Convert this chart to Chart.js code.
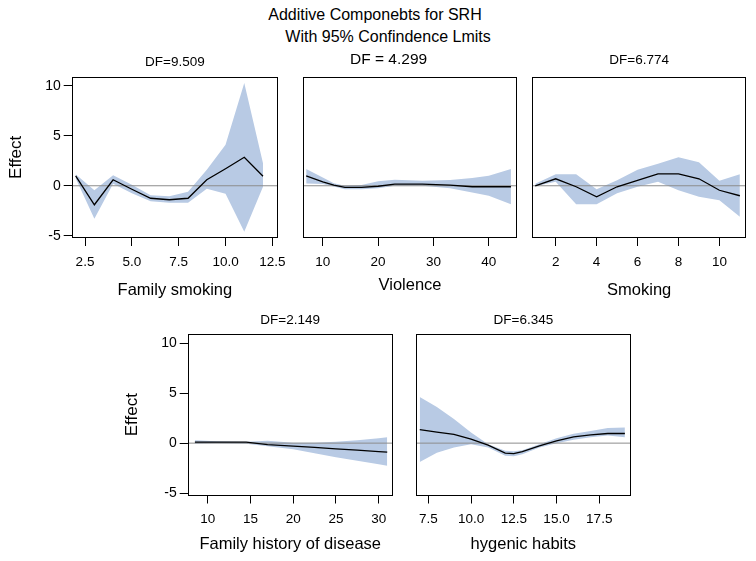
<!DOCTYPE html>
<html>
<head>
<meta charset="utf-8">
<script src="https://cdn.jsdelivr.net/npm/chart.js@4.4.0/dist/chart.umd.min.js"></script>
<style>
  body { margin: 0; background: #fff; }
  #wrap { position: relative; width: 756px; height: 561px; overflow: hidden; font-family: 'Liberation Sans', Arial, sans-serif; }
  canvas { position: absolute; }
  .ttl { position: absolute; font-size: 16px; line-height: 18px; white-space: nowrap; transform: translateX(-50%); color: #000; }
</style>
</head>
<body>
<div id="wrap">
  <div class="ttl" style="left:375px; top:6px">Additive Componebts for SRH</div>
  <div class="ttl" style="left:388px; top:28px">With 95% Confindence Lmits</div>
  <canvas id="p1"></canvas>
  <canvas id="p2"></canvas>
  <canvas id="p3"></canvas>
  <canvas id="p4"></canvas>
  <canvas id="p5"></canvas>
</div>
<script>
'use strict'

// Shared y axis
var yTicks = [-5, 0, 5, 10];

// Family smoking
var famSmokX     = [2, 3, 4, 5, 6, 7, 8, 9, 10, 11, 12];
var famSmokFit   = [1.0, -1.9, 0.6, -0.35, -1.25, -1.4, -1.25, 0.6, 1.7, 2.85, 0.95];
var famSmokUpper = [1.15, -0.45, 1.05, 0.1, -0.95, -1.05, -0.6, 1.6, 4.1, 10.3, 2.25];
var famSmokLower = [0.75, -3.3, 0.2, -0.75, -1.55, -1.7, -1.7, -0.3, -0.8, -4.6, -0.1];
var famSmokTicks = [2.5, 5, 7.5, 10, 12.5];

// Violence
var violX     = [7, 10, 12, 14, 17, 20, 23, 28, 33, 37, 40, 44];
var violFit   = [1.0, 0.4, 0.07, -0.17, -0.17, -0.05, 0.17, 0.17, 0.07, -0.1, -0.1, -0.1];
var violUpper = [1.68, 0.84, 0.25, 0.0, 0.07, 0.44, 0.6, 0.5, 0.57, 0.77, 1.0, 1.68];
var violLower = [0.23, 0.17, -0.07, -0.34, -0.34, -0.24, 0.0, 0.0, -0.24, -0.67, -1.0, -1.84];
var violTicks = [10, 20, 30, 40];

// Smoking
var smokX     = [1, 2, 3, 4, 5, 6, 7, 8, 9, 10, 11];
var smokFit   = [0.0, 0.7, -0.1, -1.1, -0.1, 0.55, 1.2, 1.2, 0.7, -0.45, -1.0];
var smokUpper = [0.2, 1.15, 1.15, -0.35, 0.55, 1.6, 2.2, 2.85, 2.35, 0.5, 1.15];
var smokLower = [-0.05, 0.4, -1.85, -1.85, -0.75, -0.1, 0.4, -0.45, -1.1, -1.45, -3.1];
var smokTicks = [2, 4, 6, 8, 10];

// Family history of disease
var histX     = [8.5, 11, 14.5, 17, 20, 22.5, 25, 27.5, 30, 31];
var histFit   = [0.1, 0.1, 0.1, -0.15, -0.3, -0.43, -0.57, -0.7, -0.85, -0.9];
var histUpper = [0.3, 0.2, 0.15, 0.25, 0.05, 0.05, 0.15, 0.3, 0.5, 0.6];
var histLower = [-0.05, 0.0, -0.05, -0.3, -0.6, -1.0, -1.4, -1.75, -2.1, -2.25];
var histTicks = [10, 15, 20, 25, 30];

// hygenic habits
var hygX     = [7, 8, 9, 10, 11, 12, 12.5, 13, 14, 15, 16, 17, 18, 19];
var hygFit   = [1.35, 1.1, 0.87, 0.4, -0.2, -1.0, -1.05, -0.85, -0.27, 0.23, 0.63, 0.83, 0.96, 0.96];
var hygUpper = [4.6, 3.6, 2.4, 1.05, -0.1, -0.75, -0.8, -0.7, -0.1, 0.5, 0.93, 1.2, 1.5, 1.57];
var hygLower = [-1.88, -0.95, -0.43, -0.1, -0.43, -1.27, -1.3, -1.1, -0.43, 0.0, 0.33, 0.6, 0.77, 0.6];
var hygTicks = [7.5, 10, 12.5, 15, 17.5];

Chart.defaults.font.family = "'Liberation Sans', Arial, sans-serif";
Chart.defaults.color = '#000';

var BAND = '#b8cae4';

// box around each plot area
var frame = {
  id: 'frame',
  afterDatasetsDraw: function(chart) {
    var a = chart.chartArea, ctx = chart.ctx;
    var x0 = Math.round(a.left) + 0.5, y0 = Math.round(a.top) + 0.5;
    var x1 = Math.round(a.right) - 0.5, y1 = Math.round(a.bottom) - 0.5;
    ctx.save();
    ctx.strokeStyle = '#000';
    ctx.lineWidth = 1;
    ctx.strokeRect(x0, y0, x1 - x0, y1 - y0);
    ctx.restore();
  }
};

function pts(xs, ys) {
  return xs.map(function(x, i) { return {x: x, y: ys[i]}; });
}

function drawPanel(id, p) {
  var cv = document.getElementById(id);
  cv.width = p.W;
  cv.height = p.H;
  cv.style.left = p.L + 'px';
  cv.style.top = p.T + 'px';

  var box = p.box;
  var dfLh = p.dfSize * 1.2;
  var dfTop = (p.dfY - p.T) - dfLh / 2;
  var titleH = box[1] - p.T;
  var xH = p.T + p.H - box[3];

  new Chart(cv, {
    type: 'line',
    data: {
      datasets: [
        { data: pts(p.x, p.fit), borderColor: '#000', borderWidth: 1.3, pointRadius: 0, fill: false },
        { data: [{x: p.xMin, y: 0}, {x: p.xMax, y: 0}], borderColor: '#8c8c8c', borderWidth: 1, pointRadius: 0, fill: false },
        { data: pts(p.x, p.upper), fill: '+1', backgroundColor: BAND, borderColor: 'rgba(0,0,0,0)', borderWidth: 0, pointRadius: 0 },
        { data: pts(p.x, p.lower), fill: false, borderColor: 'rgba(0,0,0,0)', borderWidth: 0, pointRadius: 0 }
      ]
    },
    options: {
      responsive: false,
      animation: false,
      events: [],
      layout: { padding: { left: 0, top: 0, bottom: 0, right: p.L + p.W - box[2] } },
      plugins: {
        legend: { display: false },
        tooltip: { enabled: false },
        title: {
          display: true,
          text: p.df,
          fullSize: p.dfFull,
          color: '#000',
          font: { size: p.dfSize, weight: 'normal' },
          padding: { top: dfTop, bottom: titleH - dfTop - dfLh }
        }
      },
      scales: {
        x: {
          type: 'linear',
          min: p.xMin,
          max: p.xMax,
          afterBuildTicks: function(a) { a.ticks = p.xTicks.map(function(v) { return {value: v}; }); },
          afterFit: function(s) { s.height = xH; },
          border: { display: false },
          grid: { drawOnChartArea: false, drawTicks: true, tickLength: 8, tickColor: '#000' },
          ticks: {
            color: '#000', font: { size: 13.5 }, padding: 8, maxRotation: 0, autoSkip: false,
            callback: function(v) { return p.xDec ? v.toFixed(1) : String(v); }
          },
          title: {
            display: true, text: p.xTitle, color: '#000', font: { size: 16.5 },
            padding: { top: 0, bottom: p.T + p.H - p.xTitleY - 9.9 }
          }
        },
        y: {
          min: -5.23,
          max: 10.92,
          afterBuildTicks: function(a) { a.ticks = yTicks.map(function(v) { return {value: v}; }); },
          afterFit: function(s) { s.width = box[0] - p.L; },
          border: { display: false },
          grid: { display: p.yLabels, drawOnChartArea: false, drawTicks: true, tickLength: 8, tickColor: '#000' },
          ticks: { display: p.yLabels, color: '#000', font: { size: 14 }, padding: 3 },
          title: {
            display: p.yLabels, text: 'Effect', color: '#000', font: { size: 17 },
            padding: { top: p.yLabels ? p.effX - p.L - 10.2 : 0, bottom: 0 }
          }
        }
      }
    },
    plugins: [frame]
  });
}

drawPanel('p1', {
  L: 0, T: 45, W: 300, H: 265, box: [71.7, 76.7, 278, 238],
  df: 'DF=9.509', dfY: 62.5, dfSize: 13.5, dfFull: false,
  xMin: 1.79, xMax: 12.8, xTicks: famSmokTicks, xDec: true,
  xTitle: 'Family smoking', xTitleY: 290.8, yLabels: true, effX: 16,
  x: famSmokX, fit: famSmokFit, upper: famSmokUpper, lower: famSmokLower
});

drawPanel('p2', {
  L: 259.5, T: 45, W: 258, H: 265, box: [302.3, 76.7, 516.7, 238],
  df: 'DF = 4.299', dfY: 60, dfSize: 15.5, dfFull: true,
  xMin: 6.39, xMax: 45.13, xTicks: violTicks, xDec: false,
  xTitle: 'Violence', xTitleY: 285.8, yLabels: false,
  x: violX, fit: violFit, upper: violUpper, lower: violLower
});

drawPanel('p3', {
  L: 520, T: 45, W: 236, H: 265, box: [532.3, 76.7, 746, 238],
  df: 'DF=6.774', dfY: 60, dfSize: 13.5, dfFull: false,
  xMin: 0.857, xMax: 11.3, xTicks: smokTicks, xDec: false,
  xTitle: 'Smoking', xTitleY: 290.8, yLabels: false,
  x: smokX, fit: smokFit, upper: smokUpper, lower: smokLower
});

drawPanel('p4', {
  L: 115.6, T: 301.5, W: 290, H: 255, box: [187.3, 333.3, 392.3, 495],
  df: 'DF=2.149', dfY: 319.5, dfSize: 13.5, dfFull: false,
  xMin: 7.66, xMax: 31.64, xTicks: histTicks, xDec: false,
  xTitle: 'Family history of disease', xTitleY: 544.2, yLabels: true, effX: 131.5,
  x: histX, fit: histFit, upper: histUpper, lower: histLower
});

drawPanel('p5', {
  L: 404, T: 301.5, W: 240, H: 255, box: [416, 333.3, 630.7, 495],
  df: 'DF=6.345', dfY: 320, dfSize: 13.5, dfFull: false,
  xMin: 6.78, xMax: 19.34, xTicks: hygTicks, xDec: true,
  xTitle: 'hygenic habits', xTitleY: 544.2, yLabels: false,
  x: hygX, fit: hygFit, upper: hygUpper, lower: hygLower
});
</script>
</body>
</html>
